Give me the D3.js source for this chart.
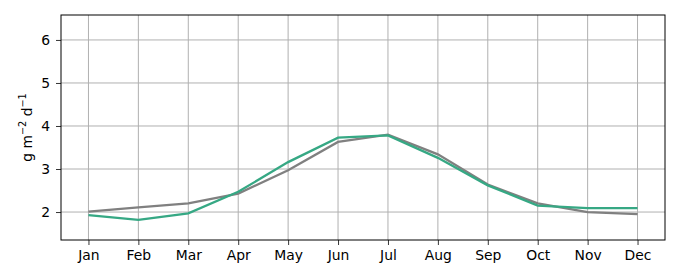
<!DOCTYPE html>
<html>
<head>
<meta charset="utf-8">
<script src="https://cdn.jsdelivr.net/npm/d3@7"></script>
<style>
  body { margin: 0; background: #fff; }
  text { font-family: "DejaVu Sans", sans-serif; fill: #000; }
  .grid line { stroke: #b0b0b0; stroke-width: 1; }
</style>
</head>
<body>
<div id="chart"></div>
<script>
var months = ["Jan", "Feb", "Mar", "Apr", "May", "Jun", "Jul", "Aug", "Sep", "Oct", "Nov", "Dec"];
var grayValues = [2.01, 2.11, 2.20, 2.43, 2.97, 3.63, 3.80, 3.34, 2.64, 2.20, 2.00, 1.95];
var greenValues = [1.93, 1.82, 1.97, 2.47, 3.16, 3.73, 3.78, 3.26, 2.62, 2.15, 2.09, 2.09];
var yTicks = [2, 3, 4, 5, 6];

var margin = {top: 15, right: 15, bottom: 40, left: 61};
var width = 680 - margin.left - margin.right;
var height = 280 - margin.top - margin.bottom;

var svg = d3.select("#chart").append("svg")
    .attr("width", 680)
    .attr("height", 280)
  .append("g")
    .attr("transform", "translate(" + margin.left + "," + margin.top + ")");

// matplotlib style 5% padding on x
var x = d3.scaleLinear().domain([-0.55, 11.55]).range([0, width]);
var y = d3.scaleLinear().domain([1.35, 6.58]).range([height, 0]);

// grid
svg.append("g").attr("class", "grid")
  .selectAll("line").data(months).enter().append("line")
    .attr("x1", function(d, i) { return x(i); })
    .attr("x2", function(d, i) { return x(i); })
    .attr("y1", 0).attr("y2", height);
svg.append("g").attr("class", "grid")
  .selectAll("line").data(yTicks).enter().append("line")
    .attr("x1", 0).attr("x2", width)
    .attr("y1", function(d) { return y(d); })
    .attr("y2", function(d) { return y(d); });

var line = d3.line()
    .x(function(d, i) { return x(i); })
    .y(function(d) { return y(d); });

svg.append("path").datum(grayValues)
    .attr("fill", "none").attr("stroke", "#808080").attr("stroke-width", 2.3)
    .attr("d", line);
svg.append("path").datum(greenValues)
    .attr("fill", "none").attr("stroke", "#36a884").attr("stroke-width", 2.3)
    .attr("d", line);

// axes
var xAxis = d3.axisBottom(x)
    .tickValues(d3.range(12))
    .tickFormat(function(i) { return months[i]; })
    .tickSize(5).tickPadding(5);
var gx = svg.append("g")
    .attr("transform", "translate(0," + height + ")")
    .call(xAxis);
var yAxis = d3.axisLeft(y).tickValues(yTicks).tickFormat(d3.format("d")).tickSize(5).tickPadding(6);
var gy = svg.append("g").call(yAxis);

[gx, gy].forEach(function(g) {
  g.select(".domain").remove();
  g.attr("font-size", null).attr("font-family", null);
  g.selectAll("text").style("font-size", "13.9px").style("font-family", "DejaVu Sans");
  g.selectAll("line").attr("stroke", "#000").attr("stroke-width", 0.8);
});

// frame
svg.append("rect")
    .attr("width", width).attr("height", height)
    .attr("fill", "none").attr("stroke", "#000").attr("stroke-width", 1);

// y label
var yl = svg.append("text")
    .attr("transform", "translate(-29," + (height / 2) + ") rotate(-90)")
    .attr("text-anchor", "middle")
    .style("font-size", "13.9px");
yl.append("tspan").text("g m");
yl.append("tspan").attr("dy", -6).style("font-size", "9.7px").text("\u22122");
yl.append("tspan").attr("dy", 6).text(" d");
yl.append("tspan").attr("dy", -6).style("font-size", "9.7px").text("\u22121");
</script>
</body>
</html>
